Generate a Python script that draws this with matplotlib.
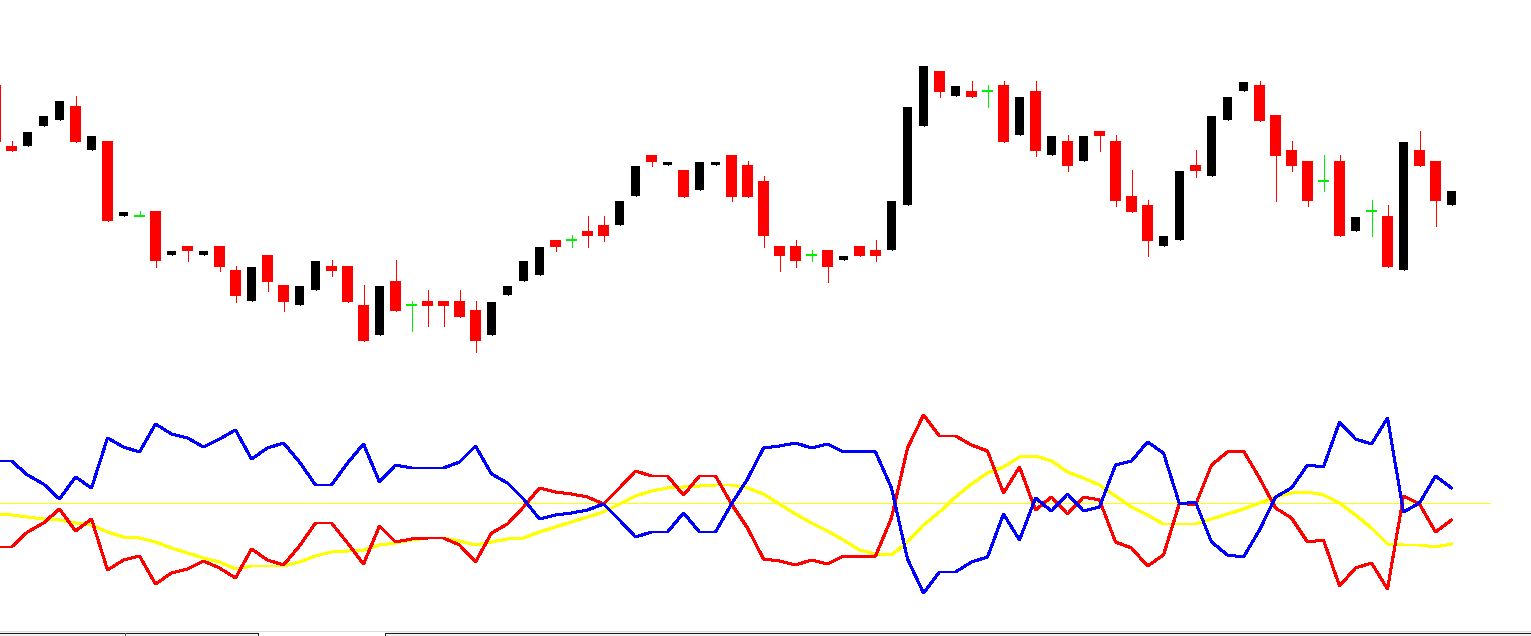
import matplotlib
matplotlib.use("Agg")
import matplotlib.pyplot as plt
from matplotlib.patches import Rectangle
from matplotlib.lines import Line2D
import numpy as np

# ---- price data (arbitrary price units) ----
opens = [315, 254, 254, 274, 280, 294, 250, 259, 184, 184,
         189, 145, 154, 145, 154, 130, 99, 145, 115, 95,
         110, 134, 134, 95, 65, 119, 95, 99, 99, 99,
         90, 65, 105, 119, 125, 160, 160, 169, 175, 175,
         204, 245, 235, 230, 210, 235, 245, 235, 219, 154,
         154, 145, 150, 140, 154, 150, 150, 195, 274, 329,
         304, 309, 309, 315, 265, 309, 245, 259, 239, 269,
         259, 204, 195, 154, 160, 235, 224, 280, 309, 315,
         285, 250, 239, 219, 239, 169, 189, 184, 130, 250,
         239, 195]
highs = [315, 259, 268, 284, 299, 304, 264, 259, 188, 189,
         189, 149, 154, 149, 154, 134, 133, 145, 115, 114,
         139, 140, 134, 115, 114, 140, 99, 110, 99, 110,
         99, 98, 114, 139, 153, 160, 165, 184, 184, 199,
         234, 245, 238, 230, 238, 238, 245, 239, 224, 154,
         160, 150, 150, 144, 154, 160, 199, 293, 334, 329,
         314, 319, 315, 319, 303, 319, 264, 265, 264, 269,
         265, 230, 200, 164, 229, 250, 284, 303, 318, 319,
         285, 259, 239, 245, 245, 183, 200, 195, 258, 269,
         239, 209]
lows = [258, 249, 254, 274, 280, 258, 250, 179, 184, 184,
        133, 145, 139, 145, 129, 98, 99, 109, 89, 95,
        110, 124, 98, 59, 65, 89, 69, 74, 74, 83,
        48, 65, 105, 119, 125, 149, 153, 153, 159, 175,
        204, 234, 235, 203, 210, 235, 199, 203, 153, 129,
        133, 139, 118, 140, 144, 139, 150, 195, 274, 303,
        304, 303, 293, 258, 265, 244, 245, 229, 239, 249,
        194, 188, 144, 154, 160, 223, 224, 280, 309, 279,
        199, 229, 194, 209, 164, 169, 164, 133, 130, 234,
        174, 195]
closes = [258, 249, 268, 284, 299, 258, 264, 179, 188, 184,
          139, 149, 149, 149, 133, 104, 133, 118, 98, 114,
          139, 129, 98, 59, 114, 89, 95, 94, 94, 83,
          59, 98, 114, 139, 153, 153, 160, 164, 164, 199,
          234, 238, 238, 203, 238, 238, 203, 203, 164, 144,
          139, 145, 133, 144, 144, 144, 199, 293, 334, 308,
          314, 303, 309, 258, 303, 249, 264, 234, 264, 264,
          199, 188, 159, 164, 229, 229, 284, 303, 318, 279,
          244, 234, 199, 219, 164, 183, 189, 133, 258, 234,
          199, 209]

# ---- indicator data ----
blue = [42, 42, 28, 19, 4, 26, 15, 65, 56, 51,
        79, 69, 65, 56, 64, 73, 44, 55, 60, 41,
        18, 18, 40, 59, 21, 38, 35, 35, 35, 41,
        57, 29, 20, 4, -16, -12, -10, -7, -1, -17,
        -34, -29, -29, -10, -29, -29, -1, 24, 55, 57,
        60, 55, 59, 51, 52, 51, 15, -56, -90, -69,
        -69, -59, -54, -11, -37, 5, -8, 9, -8, -4,
        38, 42, 61, 50, -1, 1, -39, -52, -54, -27,
        6, 15, 38, 36, 81, 64, 59, 85, -9, 0,
        27, 15]
red = [-44, -44, -29, -20, -6, -28, -16, -67, -57, -53,
       -81, -70, -66, -58, -65, -75, -46, -57, -62, -43,
       -20, -20, -40, -61, -23, -39, -36, -35, -35, -42,
       -59, -30, -21, -4, 15, 11, 9, 6, -1, 15,
       32, 27, 27, 8, 27, 27, -1, -25, -56, -58,
       -62, -57, -61, -53, -54, -53, -15, 55, 88, 67,
       67, 58, 52, 10, 36, -7, 6, -11, 6, 3,
       -39, -45, -63, -52, 0, -2, 38, 51, 52, 25,
       -5, -15, -39, -37, -83, -65, -60, -86, 7, -1,
       -29, -17]
yellow = [-11, -12, -14, -16, -17, -20, -22, -29, -34, -35,
          -39, -45, -50, -55, -59, -66, -63, -63, -63, -59,
          -53, -49, -48, -47, -42, -40, -37, -35, -35, -38,
          -42, -39, -36, -35, -29, -24, -19, -14, -9, -1,
          7, 12, 15, 16, 17, 18, 18, 15, 9, -1,
          -11, -20, -28, -37, -47, -51, -52, -39, -22, -9,
          6, 19, 30, 36, 46, 47, 42, 31, 25, 18,
          7, -4, -12, -21, -21, -21, -16, -11, -6, 0,
          6, 10, 11, 8, 0, -12, -25, -41, -42, -42,
          -44, -41]

W, H = 1531, 636
fig = plt.figure(figsize=(W / 100, H / 100), dpi=100)
fig.patch.set_facecolor("white")

n = len(opens)
x = np.arange(n)
xlim = (4.5 / 16, (W + 4.5) / 16)
px = 0.72  # one pixel in points

# ---- price panel ----
ax = fig.add_axes([0, 0, 1, 1])
ax.set_xlim(*xlim)
ax.set_ylim(-236, 400)
ax.axis("off")
ax.patch.set_alpha(0)

for i in range(n):
    o, h, l, c = opens[i], highs[i], lows[i], closes[i]
    if c > o:
        col, w = "#000000", 9 / 16
    elif c < o:
        col, w = "#ff0000", 11 / 16
    else:
        col, w = "#00ee00", 11 / 16
    ax.vlines(x[i], l, h, colors=col, linewidth=px, antialiased=False)
    if c != o:
        ax.bar(x[i], abs(c - o), bottom=min(o, c), width=w, color=col,
               linewidth=0, antialiased=False)
    else:
        ax.hlines(o, x[i] - w / 2, x[i] + w / 2, colors=col,
                  linewidth=1.5 * px, antialiased=False)

# ---- indicator panel ----
ax2 = fig.add_axes([0, 0, 1, 1])
ax2.set_xlim(*xlim)
ax2.set_ylim(-133, 503)
ax2.axis("off")
ax2.patch.set_alpha(0)
ax2.axhline(0, xmin=0, xmax=1490 / W, color="#ffff00", linewidth=px,
            antialiased=False)
ax2.plot(x, yellow, color="#ffff00", linewidth=2 * px, antialiased=False)
ax2.plot(x, red, color="#ff0000", linewidth=2 * px, antialiased=False)
ax2.plot(x, blue, color="#0000ff", linewidth=2 * px, antialiased=False)

# ---- bottom tab strip ----
def fx(p):
    return p / W

def fy(p):
    return 1 - p / H

fig.add_artist(Line2D([0, 1], [fy(630.5), fy(630.5)], color="#dcdcdc",
                      linewidth=px, transform=fig.transFigure))
for x0, x1 in [(0, 258), (385, W)]:
    fig.add_artist(Rectangle((fx(x0), fy(H)), fx(x1 - x0), 1 - fy(H) - (1 - fy(632)) + (1 - fy(632)) - (1 - fy(H)) + (fy(632) - fy(H)),
                             transform=fig.transFigure, facecolor="#f0f0f0",
                             edgecolor="none"))
    fig.add_artist(Line2D([fx(x0), fx(x1)], [fy(632.5), fy(632.5)],
                          color="#202020", linewidth=px,
                          transform=fig.transFigure))
for xv in [258, 385]:
    fig.add_artist(Line2D([fx(xv), fx(xv)], [fy(632.5), fy(H)],
                          color="#202020", linewidth=px,
                          transform=fig.transFigure))
fig.add_artist(Line2D([fx(125), fx(125)], [fy(633), fy(635)],
                      color="#606060", linewidth=px,
                      transform=fig.transFigure))

fig.savefig("out.png", dpi=100, facecolor="white")
